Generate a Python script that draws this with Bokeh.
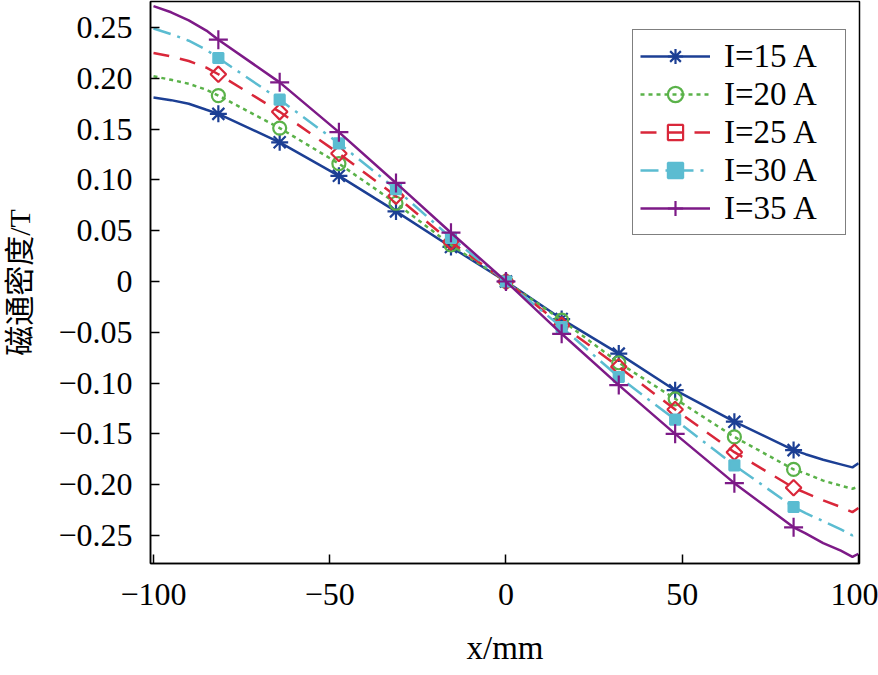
import numpy as np
from bokeh.plotting import figure
from bokeh.models import Range1d, FixedTicker, CustomJSTickFormatter, Legend, LegendItem
from bokeh.embed import file_html
from bokeh.resources import INLINE

# ---- data ----
x_line = [-100, -95, -90, -85, -81.6, -64.2, -47.4, -31.2, -15.6, 0, 15.8, 32.0, 48.0, 64.8, 81.6, 85, 90, 95, 98.3, 100]
x_mark = [-81.6, -64.2, -47.4, -31.2, -15.6, 0, 15.8, 32.0, 48.0, 64.8, 81.6]

b_i15 = [0.181, 0.1785, 0.175, 0.169, 0.165, 0.137, 0.104, 0.069, 0.034, 0.0, -0.037, -0.071, -0.107, -0.138, -0.166, -0.170, -0.1755, -0.180, -0.183, -0.179]
b_i20 = [0.202, 0.1985, 0.1946, 0.1888, 0.183, 0.151, 0.116, 0.077, 0.036, 0.0, -0.038, -0.080, -0.1155, -0.153, -0.185, -0.189, -0.196, -0.201, -0.204, -0.202]
b_i25 = [0.225, 0.2215, 0.217, 0.2105, 0.204, 0.167, 0.126, 0.084, 0.039, 0.0, -0.043, -0.084, -0.126, -0.168, -0.203, -0.208, -0.2155, -0.222, -0.227, -0.223]
b_i30 = [0.249, 0.2435, 0.237, 0.228, 0.220, 0.179, 0.136, 0.091, 0.043, 0.0, -0.045, -0.094, -0.136, -0.181, -0.222, -0.228, -0.236, -0.244, -0.250, -0.247]
b_i35 = [0.271, 0.265, 0.257, 0.247, 0.238, 0.196, 0.147, 0.097, 0.048, 0.0, -0.0515, -0.102, -0.150, -0.1985, -0.242, -0.248, -0.2575, -0.265, -0.271, -0.268]

labels = ["I=15 A", "I=20 A", "I=25 A", "I=30 A", "I=35 A"]
x_ticks = [-100, -50, 0, 50, 100]
y_ticks = [-0.25, -0.20, -0.15, -0.10, -0.05, 0, 0.05, 0.10, 0.15, 0.20, 0.25]

FONT = "Liberation Serif"

p = figure(width=878, height=675, output_backend="svg", toolbar_location=None,
           x_range=Range1d(-100.85, 100.3), y_range=Range1d(-0.2776, 0.2756),
           min_border_left=147, min_border_right=19, min_border_top=1, min_border_bottom=112)

p.xgrid.visible = False
p.ygrid.visible = False
p.outline_line_color = "black"
p.outline_line_width = 1.5
p.background_fill_color = "white"
p.border_fill_color = "white"

mark_idx = [x_line.index(v) for v in x_mark]

# (values, color, dash, marker, size, fill, angle)
series = [
    (b_i15, "#1c3f94", "solid", "asterisk", 17, None, 0.0),
    (b_i20, "#5ab249", "4 4", "circle", 13, None, 0.0),
    (b_i25, "#d9273a", "16 11", "square", 11, None, np.pi / 4),
    (b_i30, "#5bbcd1", "18 7 3 7", "square", 10, "#5bbcd1", 0.0),
    (b_i35, "#7d1a87", "solid", "cross", 19, None, 0.0),
]

items = []
for (ys, color, dash, marker, size, fill, ang), lab in zip(series, labels):
    lr = p.line(x_line, ys, line_color=color, line_width=2.5, line_dash=dash)
    ym = [ys[i] for i in mark_idx]
    sr = p.scatter(x_mark, ym, marker=marker, size=size, line_color=color,
                   line_width=2.2, fill_color=fill, angle=ang)
    items.append(LegendItem(label=lab, renderers=[lr, sr]))

legend = Legend(items=items, location=(482, 328), margin=0,
                label_text_font=FONT, label_text_font_size="33px", label_text_color="black",
                glyph_width=70, glyph_height=38, label_height=38, spacing=0, padding=7,
                label_standoff=14, label_width=114,
                border_line_color="black", border_line_width=1.5,
                background_fill_color="white", background_fill_alpha=1.0)
p.add_layout(legend)

fmt_x = CustomJSTickFormatter(code="""
if (Math.abs(tick) < 1e-9) return "0";
return (tick < 0 ? "\u2212" : "") + Math.abs(tick).toFixed(0);
""")
fmt_y = CustomJSTickFormatter(code="""
if (Math.abs(tick) < 1e-9) return "0";
return (tick < 0 ? "\u2212" : "") + Math.abs(tick).toFixed(2);
""")

p.xaxis.ticker = FixedTicker(ticks=x_ticks)
p.yaxis.ticker = FixedTicker(ticks=y_ticks)
p.xaxis.formatter = fmt_x
p.yaxis.formatter = fmt_y

for ax in (p.xaxis[0], p.yaxis[0]):
    ax.major_tick_in = 9
    ax.major_tick_out = 0
    ax.minor_tick_in = 0
    ax.minor_tick_out = 0
    ax.axis_line_width = 1.5
    ax.major_tick_line_width = 1.5
    ax.axis_line_color = "black"
    ax.major_tick_line_color = "black"
    ax.major_label_text_font = FONT
    ax.major_label_text_font_size = "32px"
    ax.major_label_text_color = "black"
    ax.axis_label_text_font_style = "normal"
    ax.axis_label_text_color = "black"

p.xaxis.major_label_standoff = 20
p.yaxis.major_label_standoff = 18
p.xaxis.axis_label = "x/mm"
p.xaxis.axis_label_text_font = FONT
p.xaxis.axis_label_text_font_size = "33px"
p.xaxis.axis_label_standoff = 22
p.yaxis.axis_label = "磁通密度/T"
p.yaxis.axis_label_text_font = "Liberation Serif, Noto Sans CJK SC"
p.yaxis.axis_label_text_font_size = "30px"
p.yaxis.axis_label_standoff = 19

open("out.html", "w").write(file_html(p, INLINE))
